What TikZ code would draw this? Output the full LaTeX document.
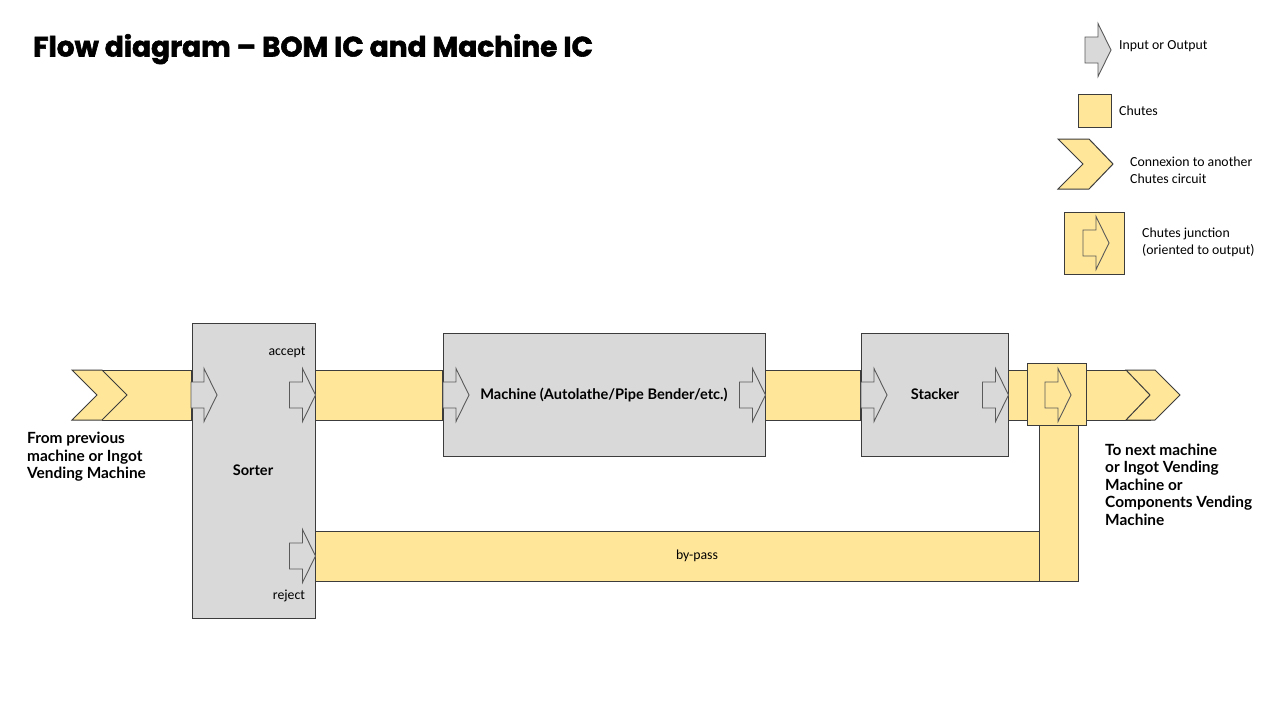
\documentclass[tikz,border=0pt]{standalone}
\usepackage{fontspec}
\setmainfont{Carlito}
\newfontfamily\labfont{Lato}
\newfontfamily\titlefont{Poppins}[FakeBold=2]
\definecolor{chute}{HTML}{FFE699}
\definecolor{boxgray}{HTML}{D9D9D9}
\definecolor{edge}{HTML}{3C3C3C}
\definecolor{arrowedge}{HTML}{5A5A5A}
\begin{document}
\begin{tikzpicture}[x=1pt,y=-1pt,
  chutefill/.style={fill=chute,draw=edge,line width=1pt},
  block/.style={draw=edge,fill=boxgray,line width=1pt,inner sep=0pt},
  blocklab/.style={font=\labfont\bfseries\fontsize{14.6}{17}\selectfont,inner sep=0pt},
  ioarr/.style={draw=arrowedge,line width=0.9pt},
  small/.style={font=\fontsize{13.8}{17}\selectfont,inner sep=0pt},
  boldlab/.style={font=\labfont\bfseries\fontsize{15.4}{17.5}\selectfont,align=left,inner sep=0pt},
  pics/ioarrow/.style={code={\path[pic actions] (0,0) -- (-13,-26.5) -- (-13,-13) -- (-26,-13) -- (-26,13) -- (-13,13) -- (-13,26.5) -- cycle;}},
]
\useasboundingbox (0,0) rectangle (1280,720);
\fill[white] (0,0) rectangle (1280,720);

% title
\node[anchor=base west,inner sep=0pt,font=\titlefont\bfseries\fontsize{28}{33}\selectfont] (title) at (33,56.5) {Flow diagram – BOM IC and Machine IC};

% helper coordinates
\coordinate (ctop) at (0,370);
\coordinate (cmid) at (0,395);
\coordinate (cbot) at (0,420);
\coordinate (btop) at (0,531);
\coordinate (bmid) at (0,556);
\coordinate (bbot) at (0,581);
\coordinate (vleft) at (1039,0);
\coordinate (vright) at (1078,0);

% blocks
\node[block,minimum width=123,minimum height=295] (sorter) at (253.5,470.5) {};
\node[block,minimum width=322,minimum height=123] (machine) at (604,394.5) {};
\node[block,minimum width=147,minimum height=123] (stacker) at (934.5,394.5) {};

% chutes
\path[chutefill] (102,370) rectangle (sorter.west |- cbot);
\path[chutefill] (72,370) -- (102,370) -- (127,395) -- (102,420) -- (72,420) -- (97,395) -- cycle;
\path[chutefill] (sorter.east |- ctop) rectangle (machine.west |- cbot);
\path[chutefill] (machine.east |- ctop) rectangle (stacker.west |- cbot);
\path[chutefill] (stacker.east |- ctop) rectangle (1027,420);
\path[chutefill] (sorter.east |- btop) rectangle (vleft |- bbot);
\path[chutefill] (vleft |- 0,425) rectangle (vright |- bbot);
\node[draw=edge,fill=chute,line width=1pt,minimum width=59,minimum height=62,inner sep=0pt] (junction) at (1056.5,394) {};
\path[chutefill] (junction.east |- ctop) rectangle (1150,420);
\path[chutefill] (1126,370) -- (1155,370) -- (1180,395) -- (1155,420) -- (1126,420) -- (1150,395) -- cycle;

% block labels
\node[blocklab] (sorterlab) at (253,470) {Sorter};
\node[blocklab] (machinelab) at (604,394.5) {Machine (Autolathe/Pipe Bender/etc.)};
\node[blocklab] (stackerlab) at (935,394.5) {Stacker};

% in/out arrows
\pic[ioarr,fill=boxgray] at (217,395) {ioarrow};
\pic[ioarr,fill=boxgray] at (sorter.east |- cmid) {ioarrow};
\pic[ioarr,fill=boxgray] at (sorter.east |- bmid) {ioarrow};
\pic[ioarr,fill=boxgray] at (469,395) {ioarrow};
\pic[ioarr,fill=boxgray] at (machine.east |- cmid) {ioarrow};
\pic[ioarr,fill=boxgray] at (887,395) {ioarrow};
\pic[ioarr,fill=boxgray] at (stacker.east |- cmid) {ioarrow};
\pic[ioarr,fill=chute] at (1071,395) {ioarrow};

% small labels
\node[small] (acceptlab) at (287,352) {accept};
\node[small] (rejectlab) at (289,596) {reject};
\node[small] (bypasslab) at (697,556) {by-pass};

% bold labels
\node[boldlab,anchor=north west] (fromlab) at (27,432) {From previous\\machine or Ingot\\Vending Machine};
\node[boldlab,anchor=north west] (tolab) at (1105,443.5) {To next machine\\or Ingot Vending\\Machine or\\Components Vending\\Machine};

% legend
\pic[ioarr,fill=boxgray] at (1111,50) {ioarrow};
\node[small,anchor=west] (leg1) at (1119,46.5) {Input or Output};
\path[chutefill] (1078,94) rectangle (1111,127);
\node[small,anchor=west] (leg2) at (1119,110.5) {Chutes};
\path[chutefill] (1058,139) -- (1089,139) -- (1113,164) -- (1089,189) -- (1058,189) -- (1083,164) -- cycle;
\node[small,anchor=west,align=left] (leg3) at (1130,170) {Connexion to another\\Chutes circuit};
\path[chutefill] (1064,212) rectangle (1124,274);
\pic[ioarr,fill=chute] at (1109,243) {ioarrow};
\node[small,anchor=west,align=left] (leg4) at (1142,242) {Chutes junction\\(oriented to output)};
\end{tikzpicture}
\end{document}
